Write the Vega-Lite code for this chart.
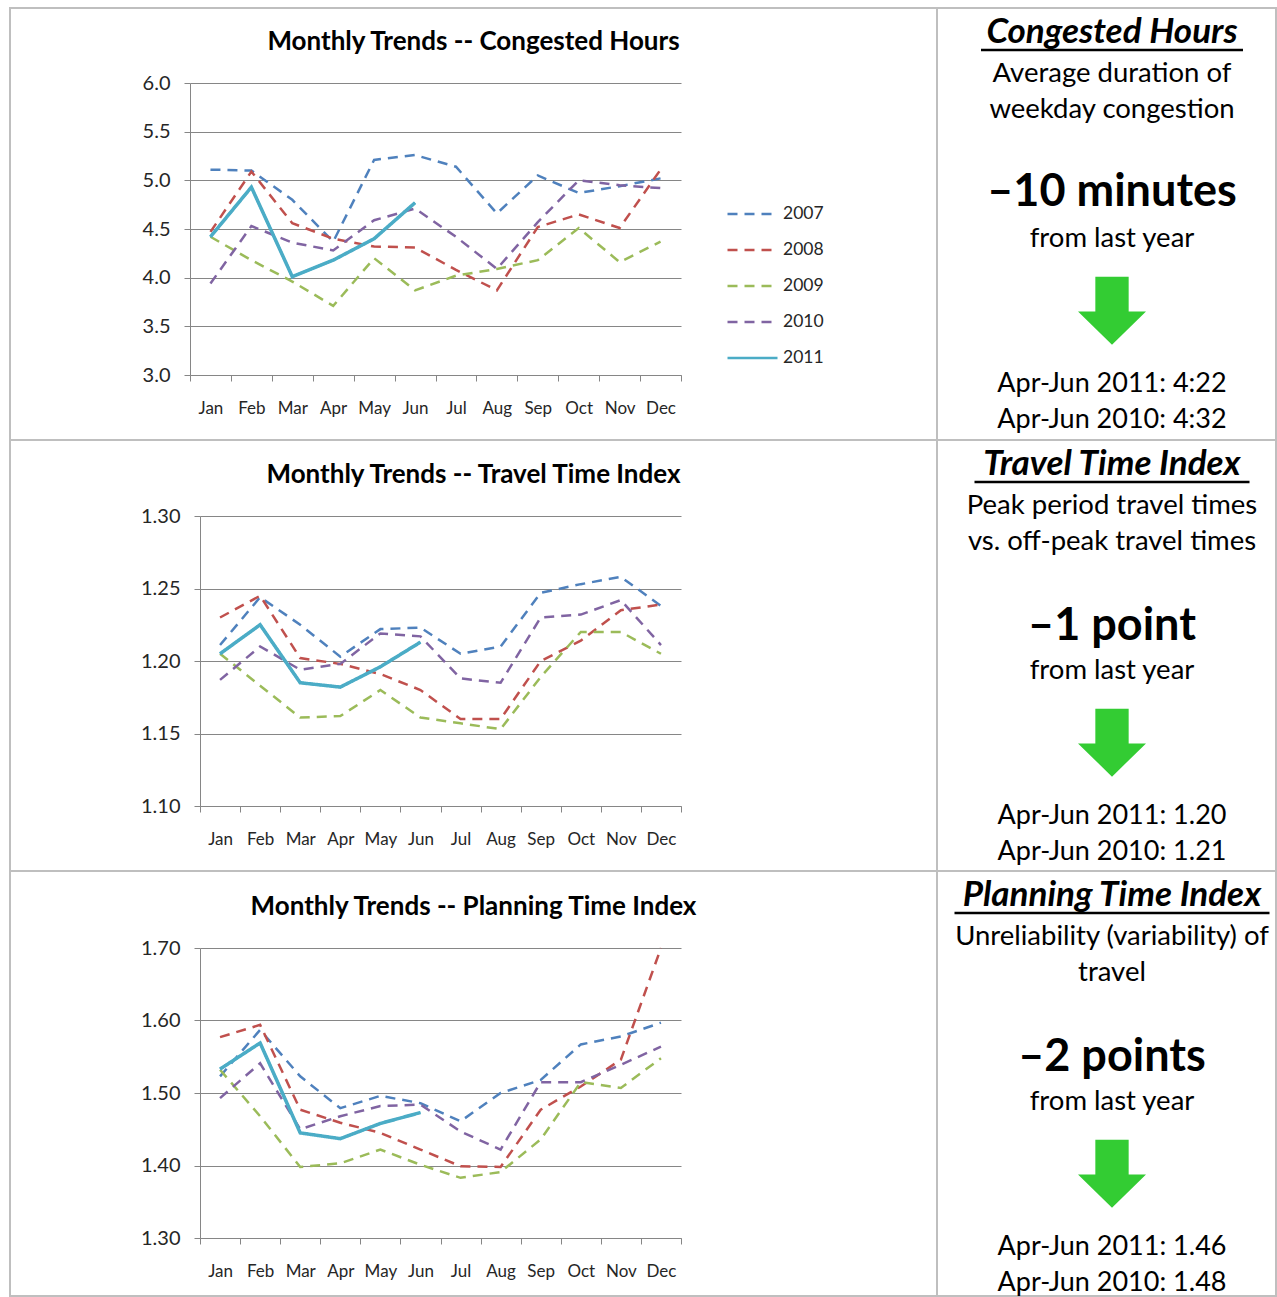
{
  "$schema": "https://vega.github.io/schema/vega-lite/v6.json",
  "padding": {"left": 9, "top": 7, "right": 0, "bottom": 0},
  "columns": 2,
  "spacing": 0,
  "bounds": "flush",
  "config": {
    "font": "Lato",
    "view": {"stroke": "#bfbfbf", "strokeWidth": 2},
    "axis": {"domainColor": "#868686", "tickColor": "#868686", "gridColor": "#868686", "labelColor": "#262626", "tickSize": 6, "domainWidth": 1, "tickWidth": 1, "gridWidth": 1, "labelFont": "Lato"},
    "legend": {"symbolSize": 2500},
    "title": {"font": "Lato", "fontSize": 26, "fontWeight": "bold", "color": "#000", "anchor": "middle", "frame": "group", "baseline": "middle"},
    "text": {"font": "Lato", "color": "#000", "lineBreak": "\n", "lineHeight": 36}
  },
  "datasets": {
    "ch": [
      {"month": "Jan", "2007": 5.11, "2008": 4.47, "2009": 4.42, "2010": 3.94, "2011": 4.42},
      {"month": "Feb", "2007": 5.10, "2008": 5.09, "2009": 4.18, "2010": 4.53, "2011": 4.93},
      {"month": "Mar", "2007": 4.80, "2008": 4.56, "2009": 3.96, "2010": 4.36, "2011": 4.01},
      {"month": "Apr", "2007": 4.37, "2008": 4.40, "2009": 3.71, "2010": 4.28, "2011": 4.18},
      {"month": "May", "2007": 5.21, "2008": 4.32, "2009": 4.20, "2010": 4.59, "2011": 4.40},
      {"month": "Jun", "2007": 5.26, "2008": 4.31, "2009": 3.87, "2010": 4.71, "2011": 4.77},
      {"month": "Jul", "2007": 5.14, "2008": 4.08, "2009": 4.02, "2010": 4.42},
      {"month": "Aug", "2007": 4.66, "2008": 3.87, "2009": 4.09, "2010": 4.09},
      {"month": "Sep", "2007": 5.05, "2008": 4.52, "2009": 4.18, "2010": 4.57},
      {"month": "Oct", "2007": 4.87, "2008": 4.65, "2009": 4.51, "2010": 5.00},
      {"month": "Nov", "2007": 4.94, "2008": 4.51, "2009": 4.16, "2010": 4.95},
      {"month": "Dec", "2007": 5.02, "2008": 5.11, "2009": 4.37, "2010": 4.92}
    ],
    "tti": [
      {"month": "Jan", "2007": 1.211, "2008": 1.230, "2009": 1.205, "2010": 1.187, "2011": 1.205},
      {"month": "Feb", "2007": 1.244, "2008": 1.245, "2009": 1.183, "2010": 1.210, "2011": 1.225},
      {"month": "Mar", "2007": 1.225, "2008": 1.202, "2009": 1.161, "2010": 1.194, "2011": 1.185},
      {"month": "Apr", "2007": 1.203, "2008": 1.198, "2009": 1.162, "2010": 1.198, "2011": 1.182},
      {"month": "May", "2007": 1.222, "2008": 1.191, "2009": 1.180, "2010": 1.219, "2011": 1.196},
      {"month": "Jun", "2007": 1.223, "2008": 1.180, "2009": 1.161, "2010": 1.217, "2011": 1.213},
      {"month": "Jul", "2007": 1.205, "2008": 1.160, "2009": 1.157, "2010": 1.188},
      {"month": "Aug", "2007": 1.210, "2008": 1.160, "2009": 1.153, "2010": 1.185},
      {"month": "Sep", "2007": 1.247, "2008": 1.200, "2009": 1.189, "2010": 1.230},
      {"month": "Oct", "2007": 1.253, "2008": 1.214, "2009": 1.220, "2010": 1.232},
      {"month": "Nov", "2007": 1.258, "2008": 1.235, "2009": 1.220, "2010": 1.242},
      {"month": "Dec", "2007": 1.238, "2008": 1.239, "2009": 1.205, "2010": 1.211}
    ],
    "pti": [
      {"month": "Jan", "2007": 1.523, "2008": 1.577, "2009": 1.532, "2010": 1.493, "2011": 1.533},
      {"month": "Feb", "2007": 1.587, "2008": 1.594, "2009": 1.468, "2010": 1.541, "2011": 1.569},
      {"month": "Mar", "2007": 1.523, "2008": 1.477, "2009": 1.398, "2010": 1.450, "2011": 1.445},
      {"month": "Apr", "2007": 1.479, "2008": 1.459, "2009": 1.403, "2010": 1.468, "2011": 1.437},
      {"month": "May", "2007": 1.496, "2008": 1.445, "2009": 1.422, "2010": 1.482, "2011": 1.458},
      {"month": "Jun", "2007": 1.486, "2008": 1.422, "2009": 1.401, "2010": 1.484, "2011": 1.473},
      {"month": "Jul", "2007": 1.461, "2008": 1.399, "2009": 1.383, "2010": 1.447},
      {"month": "Aug", "2007": 1.500, "2008": 1.398, "2009": 1.391, "2010": 1.422},
      {"month": "Sep", "2007": 1.518, "2008": 1.477, "2009": 1.436, "2010": 1.515},
      {"month": "Oct", "2007": 1.567, "2008": 1.509, "2009": 1.515, "2010": 1.515},
      {"month": "Nov", "2007": 1.578, "2008": 1.546, "2009": 1.507, "2010": 1.539},
      {"month": "Dec", "2007": 1.597, "2008": 1.700, "2009": 1.548, "2010": 1.564}
    ],
    "panels": [
      {"metric": "ch", "role": "heading", "text": "Congested Hours"},
      {"metric": "ch", "role": "desc", "text": "Average duration of\nweekday congestion"},
      {"metric": "ch", "role": "big", "text": "–10 minutes"},
      {"metric": "ch", "role": "from", "text": "from last year"},
      {"metric": "ch", "role": "arrow", "text": "down"},
      {"metric": "ch", "role": "q", "text": "Apr-Jun 2011: 4:22\nApr-Jun 2010: 4:32"},
      {"metric": "tti", "role": "heading", "text": "Travel Time Index"},
      {"metric": "tti", "role": "desc", "text": "Peak period travel times\nvs. off-peak travel times"},
      {"metric": "tti", "role": "big", "text": "–1 point"},
      {"metric": "tti", "role": "from", "text": "from last year"},
      {"metric": "tti", "role": "arrow", "text": "down"},
      {"metric": "tti", "role": "q", "text": "Apr-Jun 2011: 1.20\nApr-Jun 2010: 1.21"},
      {"metric": "pti", "role": "heading", "text": "Planning Time Index"},
      {"metric": "pti", "role": "desc", "text": "Unreliability (variability) of\ntravel"},
      {"metric": "pti", "role": "big", "text": "–2 points"},
      {"metric": "pti", "role": "from", "text": "from last year"},
      {"metric": "pti", "role": "arrow", "text": "down"},
      {"metric": "pti", "role": "q", "text": "Apr-Jun 2011: 1.46\nApr-Jun 2010: 1.48"}
    ]
  },
  "concat": [
    {
      "width": 927, "height": 432,
      "data": {"name": "ch"},
      "transform": [{"fold": ["2007", "2008", "2009", "2010", "2011"], "as": ["year", "value"]}],
      "title": {"text": "Monthly Trends -- Congested Hours", "offset": -47},
      "encoding": {
        "x": {"field": "month", "type": "nominal", "sort": ["Jan","Feb","Mar","Apr","May","Jun","Jul","Aug","Sep","Oct","Nov","Dec"],
              "scale": {"type": "band", "range": [180, 671], "paddingInner": 0, "paddingOuter": 0},
              "axis": {"title": null, "labelAngle": 0, "tickBand": "extent", "offset": -65, "labelFontSize": 17, "labelPadding": 19, "grid": false}},
        "y": {"field": "value", "type": "quantitative",
              "scale": {"domain": [3, 6], "range": [367, 75], "nice": false, "zero": false},
              "axis": {"title": null, "offset": -180, "values": [3, 3.5, 4, 4.5, 5, 5.5, 6], "format": ".1f", "labelFontSize": 20, "labelPadding": 14, "grid": true}},
        "color": {"field": "year", "type": "nominal",
                  "scale": {"domain": ["2007","2008","2009","2010","2011"], "range": ["#4F81BD","#C0504D","#9BBB59","#8064A2","#4BACC6"]},
                  "legend": {"title": null, "orient": "none", "legendX": 716, "legendY": 196, "symbolType": "stroke", "symbolSize": 2500, "symbolStrokeWidth": 2.5, "clipHeight": 20, "rowPadding": 16, "labelOffset": 4, "labelFontSize": 17.5, "labelColor": "#262626", "labelFont": "Lato", "padding": 0}},
        "strokeDash": {"field": "year", "type": "nominal",
                       "scale": {"domain": ["2007","2008","2009","2010","2011"], "range": [[10,7],[10,7],[10,7],[10,7],[1,0]]}}
      },
      "layer": [
        {"mark": {"type": "line", "strokeWidth": 2.5}},
        {"transform": [{"filter": "datum.year === '2011'"}], "mark": {"type": "line", "strokeWidth": 3.5}}
      ]
    },
    {
      "width": 339, "height": 432,
      "data": {"name": "panels"},
      "transform": [{"filter": "datum.metric === 'ch'"}],
      "encoding": {"y": {"field": "role", "type": "nominal", "scale": {"type": "point", "domain": ["heading","desc","big","from","arrow","q"], "range": [35, 384], "padding": 0}, "axis": null}},
      "layer": [
        {"transform": [{"filter": "datum.role === 'heading'"}], "mark": {"type": "text", "fontSize": 35, "fontWeight": "bold", "fontStyle": "italic", "baseline": "alphabetic", "xOffset": 5.5}, "encoding": {"text": {"field": "text"}}},
        {"transform": [{"filter": "datum.role === 'heading'"}], "mark": {"type": "tick", "orient": "horizontal", "size": 262, "thickness": 2.5, "yOffset": 7, "xOffset": 5.5, "color": "#000", "opacity": 1}},
        {"transform": [{"filter": "datum.role === 'desc'"}], "mark": {"type": "text", "fontSize": 27.5, "baseline": "alphabetic", "yOffset": -31, "xOffset": 5.5}, "encoding": {"text": {"field": "text"}}},
        {"transform": [{"filter": "datum.role === 'big'"}], "mark": {"type": "text", "fontSize": 45, "fontWeight": "bold", "baseline": "alphabetic", "yOffset": 23, "xOffset": 5.5}, "encoding": {"text": {"field": "text"}}},
        {"transform": [{"filter": "datum.role === 'from'"}], "mark": {"type": "text", "fontSize": 27.5, "baseline": "alphabetic", "yOffset": -5, "xOffset": 5.5}, "encoding": {"text": {"field": "text"}}},
        {"transform": [{"filter": "datum.role === 'arrow'"}], "mark": {"type": "point", "shape": "M-0.49,-1L0.49,-1L0.49,0.02L1,0.02L0,1L-1,0.02L-0.49,0.02Z", "filled": true, "color": "#33CC33", "size": 4624, "opacity": 1, "strokeWidth": 0, "yOffset": -11.5, "xOffset": 5.5}},
        {"transform": [{"filter": "datum.role === 'q'"}], "mark": {"type": "text", "fontSize": 27, "baseline": "alphabetic", "xOffset": 5.5}, "encoding": {"text": {"field": "text"}}}
      ]
    },
    {
      "width": 927, "height": 431,
      "data": {"name": "tti"},
      "transform": [{"fold": ["2007", "2008", "2009", "2010", "2011"], "as": ["year", "value"]}],
      "title": {"text": "Monthly Trends -- Travel Time Index", "offset": -48},
      "encoding": {
        "x": {"field": "month", "type": "nominal", "sort": ["Jan","Feb","Mar","Apr","May","Jun","Jul","Aug","Sep","Oct","Nov","Dec"],
              "scale": {"type": "band", "range": [190, 671], "paddingInner": 0, "paddingOuter": 0},
              "axis": {"title": null, "labelAngle": 0, "tickBand": "extent", "offset": -65, "labelFontSize": 17, "labelPadding": 19, "grid": false}},
        "y": {"field": "value", "type": "quantitative",
              "scale": {"domain": [1.1, 1.3], "range": [366, 76], "nice": false, "zero": false},
              "axis": {"title": null, "offset": -190, "values": [1.1, 1.15, 1.2, 1.25, 1.3], "format": ".2f", "labelFontSize": 20, "labelPadding": 14, "grid": true}},
        "color": {"field": "year", "type": "nominal",
                  "scale": {"domain": ["2007","2008","2009","2010","2011"], "range": ["#4F81BD","#C0504D","#9BBB59","#8064A2","#4BACC6"]},
                  "legend": {"title": null, "orient": "none", "legendX": 716, "legendY": 196, "symbolType": "stroke", "symbolSize": 2500, "symbolStrokeWidth": 2.5, "clipHeight": 20, "rowPadding": 16, "labelOffset": 4, "labelFontSize": 17.5, "labelColor": "#262626", "labelFont": "Lato", "padding": 0}},
        "strokeDash": {"field": "year", "type": "nominal",
                       "scale": {"domain": ["2007","2008","2009","2010","2011"], "range": [[10,7],[10,7],[10,7],[10,7],[1,0]]}}
      },
      "layer": [
        {"mark": {"type": "line", "strokeWidth": 2.5}},
        {"transform": [{"filter": "datum.year === '2011'"}], "mark": {"type": "line", "strokeWidth": 3.5}}
      ]
    },
    {
      "width": 339, "height": 431,
      "data": {"name": "panels"},
      "transform": [{"filter": "datum.metric === 'tti'"}],
      "encoding": {"y": {"field": "role", "type": "nominal", "scale": {"type": "point", "domain": ["heading","desc","big","from","arrow","q"], "range": [35, 384], "padding": 0}, "axis": null}},
      "layer": [
        {"transform": [{"filter": "datum.role === 'heading'"}], "mark": {"type": "text", "fontSize": 35, "fontWeight": "bold", "fontStyle": "italic", "baseline": "alphabetic", "xOffset": 5.5}, "encoding": {"text": {"field": "text"}}},
        {"transform": [{"filter": "datum.role === 'heading'"}], "mark": {"type": "tick", "orient": "horizontal", "size": 275, "thickness": 2.5, "yOffset": 7, "xOffset": 5.5, "color": "#000", "opacity": 1}},
        {"transform": [{"filter": "datum.role === 'desc'"}], "mark": {"type": "text", "fontSize": 27.5, "baseline": "alphabetic", "yOffset": -31, "xOffset": 5.5}, "encoding": {"text": {"field": "text"}}},
        {"transform": [{"filter": "datum.role === 'big'"}], "mark": {"type": "text", "fontSize": 45, "fontWeight": "bold", "baseline": "alphabetic", "yOffset": 25, "xOffset": 5.5}, "encoding": {"text": {"field": "text"}}},
        {"transform": [{"filter": "datum.role === 'from'"}], "mark": {"type": "text", "fontSize": 27.5, "baseline": "alphabetic", "yOffset": -5, "xOffset": 5.5}, "encoding": {"text": {"field": "text"}}},
        {"transform": [{"filter": "datum.role === 'arrow'"}], "mark": {"type": "point", "shape": "M-0.49,-1L0.49,-1L0.49,0.02L1,0.02L0,1L-1,0.02L-0.49,0.02Z", "filled": true, "color": "#33CC33", "size": 4624, "opacity": 1, "strokeWidth": 0, "yOffset": -11.5, "xOffset": 5.5}},
        {"transform": [{"filter": "datum.role === 'q'"}], "mark": {"type": "text", "fontSize": 27, "baseline": "alphabetic", "xOffset": 5.5}, "encoding": {"text": {"field": "text"}}}
      ]
    },
    {
      "width": 927, "height": 425,
      "data": {"name": "pti"},
      "transform": [{"fold": ["2007", "2008", "2009", "2010", "2011"], "as": ["year", "value"]}],
      "title": {"text": "Monthly Trends -- Planning Time Index", "offset": -49},
      "encoding": {
        "x": {"field": "month", "type": "nominal", "sort": ["Jan","Feb","Mar","Apr","May","Jun","Jul","Aug","Sep","Oct","Nov","Dec"],
              "scale": {"type": "band", "range": [190, 671], "paddingInner": 0, "paddingOuter": 0},
              "axis": {"title": null, "labelAngle": 0, "tickBand": "extent", "offset": -58, "labelFontSize": 17, "labelPadding": 19, "grid": false}},
        "y": {"field": "value", "type": "quantitative",
              "scale": {"domain": [1.3, 1.7], "range": [367, 77], "nice": false, "zero": false},
              "axis": {"title": null, "offset": -190, "values": [1.3, 1.4, 1.5, 1.6, 1.7], "format": ".2f", "labelFontSize": 20, "labelPadding": 14, "grid": true}},
        "color": {"field": "year", "type": "nominal",
                  "scale": {"domain": ["2007","2008","2009","2010","2011"], "range": ["#4F81BD","#C0504D","#9BBB59","#8064A2","#4BACC6"]},
                  "legend": {"title": null, "orient": "none", "legendX": 716, "legendY": 196, "symbolType": "stroke", "symbolSize": 2500, "symbolStrokeWidth": 2.5, "clipHeight": 20, "rowPadding": 16, "labelOffset": 4, "labelFontSize": 17.5, "labelColor": "#262626", "labelFont": "Lato", "padding": 0}},
        "strokeDash": {"field": "year", "type": "nominal",
                       "scale": {"domain": ["2007","2008","2009","2010","2011"], "range": [[10,7],[10,7],[10,7],[10,7],[1,0]]}}
      },
      "layer": [
        {"mark": {"type": "line", "strokeWidth": 2.5}},
        {"transform": [{"filter": "datum.year === '2011'"}], "mark": {"type": "line", "strokeWidth": 3.5}}
      ]
    },
    {
      "width": 339, "height": 425,
      "data": {"name": "panels"},
      "transform": [{"filter": "datum.metric === 'pti'"}],
      "encoding": {"y": {"field": "role", "type": "nominal", "scale": {"type": "point", "domain": ["heading","desc","big","from","arrow","q"], "range": [35, 384], "padding": 0}, "axis": null}},
      "layer": [
        {"transform": [{"filter": "datum.role === 'heading'"}], "mark": {"type": "text", "fontSize": 35, "fontWeight": "bold", "fontStyle": "italic", "baseline": "alphabetic", "xOffset": 5.5}, "encoding": {"text": {"field": "text"}}},
        {"transform": [{"filter": "datum.role === 'heading'"}], "mark": {"type": "tick", "orient": "horizontal", "size": 315, "thickness": 2.5, "yOffset": 7, "xOffset": 5.5, "color": "#000", "opacity": 1}},
        {"transform": [{"filter": "datum.role === 'desc'"}], "mark": {"type": "text", "fontSize": 27.5, "baseline": "alphabetic", "yOffset": -31, "xOffset": 5.5}, "encoding": {"text": {"field": "text"}}},
        {"transform": [{"filter": "datum.role === 'big'"}], "mark": {"type": "text", "fontSize": 45, "fontWeight": "bold", "baseline": "alphabetic", "yOffset": 25, "xOffset": 5.5}, "encoding": {"text": {"field": "text"}}},
        {"transform": [{"filter": "datum.role === 'from'"}], "mark": {"type": "text", "fontSize": 27.5, "baseline": "alphabetic", "yOffset": -5, "xOffset": 5.5}, "encoding": {"text": {"field": "text"}}},
        {"transform": [{"filter": "datum.role === 'arrow'"}], "mark": {"type": "point", "shape": "M-0.49,-1L0.49,-1L0.49,0.02L1,0.02L0,1L-1,0.02L-0.49,0.02Z", "filled": true, "color": "#33CC33", "size": 4624, "opacity": 1, "strokeWidth": 0, "yOffset": -11.5, "xOffset": 5.5}},
        {"transform": [{"filter": "datum.role === 'q'"}], "mark": {"type": "text", "fontSize": 27, "baseline": "alphabetic", "xOffset": 5.5}, "encoding": {"text": {"field": "text"}}}
      ]
    }
  ]
}
